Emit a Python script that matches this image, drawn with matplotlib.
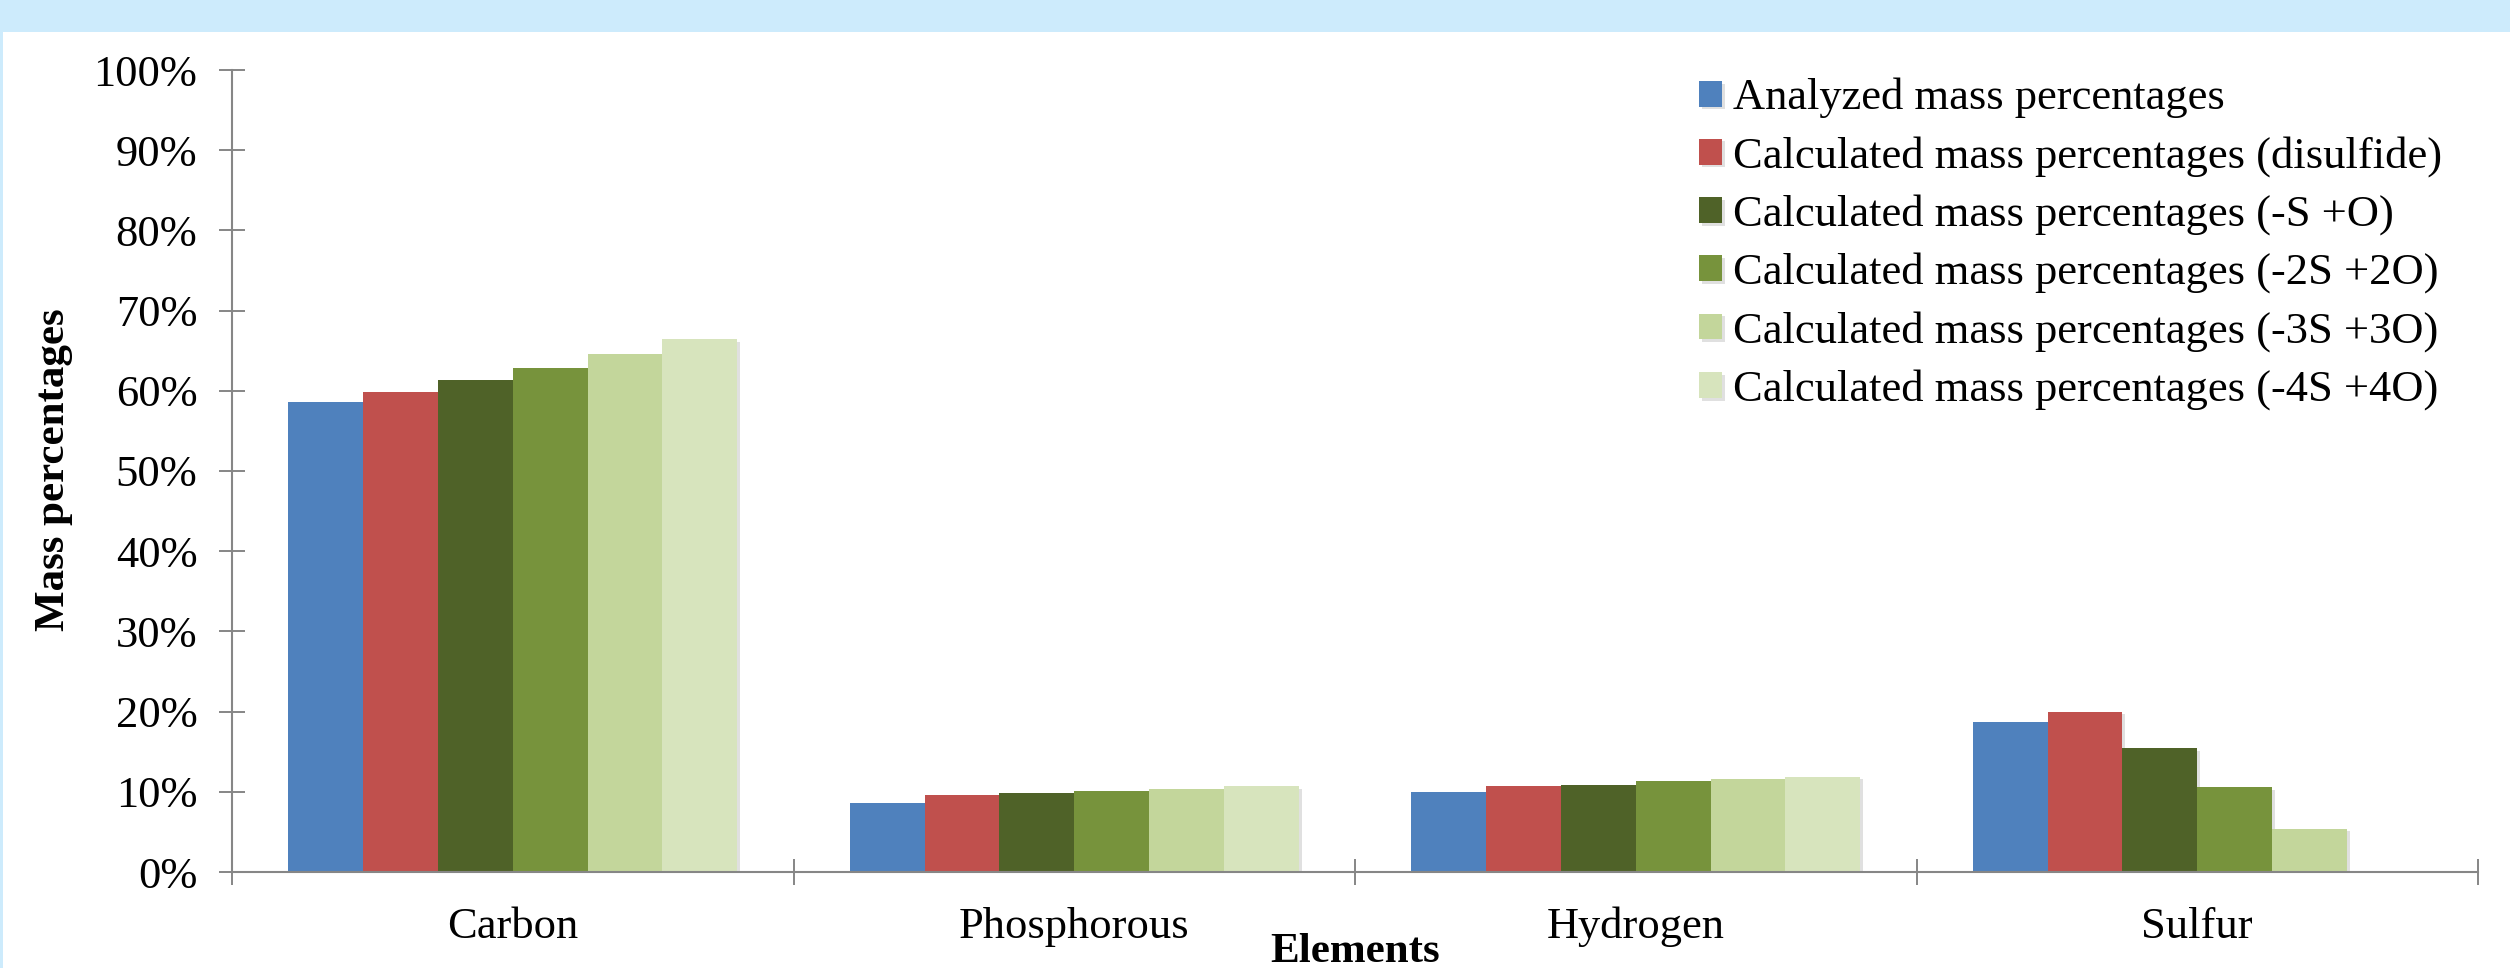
import numpy as np
import matplotlib
matplotlib.use("Agg")
import matplotlib.pyplot as plt
import matplotlib.patheffects as pe
from matplotlib.patches import Rectangle
from matplotlib.ticker import PercentFormatter, FixedLocator

# data (mass %)
elements = ["Carbon", "Phosphorous", "Hydrogen", "Sulfur"]
series_names = [
    "Analyzed mass percentages",
    "Calculated mass percentages (disulfide)",
    "Calculated mass percentages (-S +O)",
    "Calculated mass percentages (-2S +2O)",
    "Calculated mass percentages (-3S +3O)",
    "Calculated mass percentages (-4S +4O)",
]
analyzed = [58.6, 8.6, 10.0, 18.7]
disulfide = [59.9, 9.6, 10.7, 20.0]
minus_1s = [61.3, 9.85, 10.9, 15.4]
minus_2s = [62.9, 10.1, 11.3, 10.6]
minus_3s = [64.6, 10.4, 11.6, 5.4]
minus_4s = [66.4, 10.7, 11.9, 0.0]
series = [analyzed, disulfide, minus_1s, minus_2s, minus_3s, minus_4s]
colors = ["#4F81BD", "#C0504D", "#4F6228", "#77933C", "#C3D69B", "#D7E4BD"]

W, H = 2510, 968
fig = plt.figure(figsize=(W / 100, H / 100), dpi=100, facecolor="white")

# light blue frame strip at top and left edge
fig.patches.append(Rectangle((0, 1 - 32 / H), 1, 32 / H, transform=fig.transFigure,
                             facecolor="#CDEBFC", edgecolor="none", zorder=0))
fig.patches.append(Rectangle((0, 0), 3 / W, 1, transform=fig.transFigure,
                             facecolor="#CDEBFC", edgecolor="none", zorder=0))

ax = fig.add_axes([232 / W, 1 - 872 / H, (2478 - 232) / W, (872 - 70) / H])
ax.set_facecolor("none")

font = "Liberation Serif"
grey = "#868686"
n = len(series)
w = 0.8 / n
x = np.arange(len(elements))
shadow = [pe.SimplePatchShadow(offset=(2, -2), alpha=0.12, shadow_rgbFace="k"), pe.Normal()]
for j, (vals, c, name) in enumerate(zip(series, colors, series_names)):
    bars = ax.bar(x + (j - (n - 1) / 2) * w, vals, width=w, color=c, label=name,
                  linewidth=0, zorder=2)
    for b in bars:
        b.set_path_effects(shadow)

ax.set_xlim(-0.5, len(elements) - 0.5)
ax.set_ylim(0, 100)
ax.yaxis.set_major_locator(FixedLocator(np.arange(0, 101, 10)))
ax.yaxis.set_major_formatter(PercentFormatter(100, decimals=0))

ax.xaxis.set_major_locator(FixedLocator(np.arange(-0.5, len(elements), 1)))
ax.xaxis.set_minor_locator(FixedLocator(x))
ax.set_xticklabels([])
ax.set_xticklabels(elements, minor=True)

for s in ["top", "right"]:
    ax.spines[s].set_visible(False)
for s in ["left", "bottom"]:
    ax.spines[s].set_color(grey)
    ax.spines[s].set_linewidth(1.5)

ax.tick_params(axis="y", which="major", direction="inout", length=19, width=1.4,
               color=grey, pad=15.5, labelsize=32, labelfontfamily=font)
ax.tick_params(axis="x", which="major", direction="inout", length=19, width=1.4,
               color=grey)
ax.tick_params(axis="x", which="minor", length=0, pad=25, labelsize=32,
               labelfontfamily=font)

fig.text(54 / W, 1 - 470 / H, "Mass percentages", rotation=90, ha="center", va="center",
         fontsize=31, fontweight="bold", family=font)
fig.text(1355 / W, 1 - 962 / H, "Elements", ha="center", va="baseline",
         fontsize=31, fontweight="bold", family=font)

leg = ax.legend(loc="upper left", bbox_to_anchor=(1699 / W, 1 - 78 / H),
                bbox_transform=fig.transFigure, frameon=False, borderpad=0,
                borderaxespad=0, handlelength=0.52, handleheight=0.52,
                handletextpad=0.25, labelspacing=0.39,
                prop={"family": font, "size": 32})

fig.savefig("out.png", dpi=100, facecolor="white")
